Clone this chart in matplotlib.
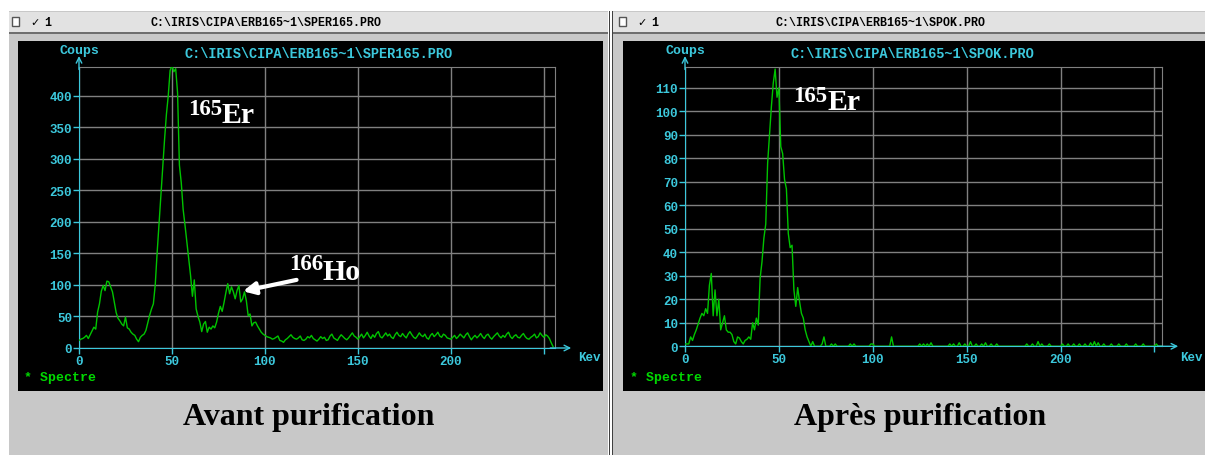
import numpy as np
import matplotlib
matplotlib.use("Agg")
import matplotlib.pyplot as plt
from matplotlib.patches import Rectangle

counts_avant = [
    12, 14, 15, 17, 20, 15, 21, 27, 33, 30, 57, 70, 90, 99, 91, 106, 105, 97, 89, 72,
    56, 47, 43, 38, 35, 49, 32, 30, 25, 22, 20, 14, 10, 17, 20, 22, 28, 40, 52, 62,
    70, 100, 150, 195, 240, 285, 330, 370, 400, 440, 448, 438, 443, 405, 290, 262, 220, 195, 168, 140,
    115, 82, 108, 62, 50, 41, 26, 38, 42, 25, 33, 30, 35, 32, 41, 55, 66, 58, 72, 88,
    102, 86, 97, 89, 78, 91, 99, 73, 78, 89, 75, 51, 54, 35, 40, 41, 35, 30, 25, 22,
    20, 18, 17, 16, 14, 15, 17, 19, 12, 11, 9, 13, 15, 18, 21, 17, 15, 14,
    16, 19, 13, 12, 14, 18, 16, 20, 15, 13, 11, 14, 18, 15, 17, 12, 13, 19, 22, 16,
    14, 12, 17, 21, 18, 15, 13, 16, 20, 24, 19, 17, 14,
    18, 22, 16, 20, 25, 19, 15, 21, 17, 23, 26, 18, 16, 20, 24, 19, 22, 17, 15, 21,
    25, 20, 18, 23, 19, 16, 22, 26, 21, 17, 15, 19, 24, 20, 18, 22, 16, 14, 20, 23,
    18, 21, 25, 19, 17, 22, 20, 16, 15, 14,
    17, 20, 15, 18, 22, 19, 16, 21, 24, 18, 13, 17, 20, 16, 19, 23, 18, 15, 20, 22,
    17, 14, 18, 21, 24, 19, 16, 20, 17, 22, 25, 18, 15, 19, 21, 17, 16, 20, 23, 18,
    15, 14, 17, 19, 22, 16, 18, 24, 20, 17, 21, 19, 15, 8, 2,
]

# spectre apres purification
counts_apres = [
    1, 1, 1, 4, 2.5, 5, 7, 9.5, 12, 14, 13, 16, 14, 26, 31, 13, 24, 13, 20, 7,
    10, 13, 7, 6, 6, 5, 2, 1, 4, 3.5, 2, 1, 2.5, 3, 4, 3, 10, 7, 12, 9,
    29, 36, 46, 52, 78, 90, 102, 112, 118, 106, 110, 85, 82, 71, 67, 48, 42, 43, 24, 17,
    25, 19, 14, 12, 7, 4, 2, 0, 2, 0, 0, 0, 0, 1, 4, 0, 0, 0, 1, 0,
    1, 0, 0, 0, 0, 0, 0, 0, 1, 0, 1, 0, 0, 0, 0, 0, 0, 0, 0, 1,
    1, 0, 0, 0, 0, 0, 0, 0, 0, 0, 4, 0, 0, 0, 0, 0, 0, 0, 0, 0,
    0, 0, 0, 0, 0, 1, 0, 1, 0, 1, 0, 1.5, 0, 0, 0, 0, 0, 0, 0, 0,
    0, 1, 0, 1, 0, 0, 1.5, 0, 0, 1, 0, 0, 2, 0, 0, 1, 0, 0, 1, 0,
    1.5, 0, 0, 1, 0, 0, 1, 0, 0, 0, 0, 0, 0, 0, 0, 0, 0, 0, 0, 0,
    0, 0, 1, 0, 0, 1, 0, 0, 2, 0, 1, 0, 0, 0, 1, 0, 0, 0, 0, 0,
    0, 1, 0, 0, 1, 0, 0, 1, 0, 0, 1, 0, 0, 1, 0, 0, 1.5, 0, 2, 0,
    1.5, 0, 0, 1, 0, 0, 0, 1, 0, 0, 0, 1, 0, 0, 0, 1, 0, 0, 0, 0,
    1, 0, 0, 0, 1, 0, 0, 0, 0, 0, 0, 1, 0, 0, 0,
]

yticks_avant = [0, 50, 100, 150, 200, 250, 300, 350, 400]
yticks_apres = [0, 10, 20, 30, 40, 50, 60, 70, 80, 90, 100, 110]
xticks = [0, 50, 100, 150, 200, 250]
xlabels = ["0", "50", "100", "150", "200", ""]

titre_avant = r"C:\IRIS\CIPA\ERB165~1\SPER165.PRO"
titre_apres = r"C:\IRIS\CIPA\ERB165~1\SPOK.PRO"

CYAN = "#3cc8dc"
GREEN = "#00c400"
GRID = "#808080"
MONO = "Liberation Mono"
SERIF = "Liberation Serif"

W, H = 1205, 456
fig = plt.figure(figsize=(W / 100, H / 100), dpi=100)
fig.patch.set_facecolor("white")


def box(x0, y0, x1, y1, **kw):
    fig.patches.append(Rectangle((x0 / W, 1 - y1 / H), (x1 - x0) / W, (y1 - y0) / H,
                                 transform=fig.transFigure, zorder=-10, **kw))


def ftext(x, y, s, **kw):
    fig.text(x / W, 1 - y / H, s, **kw)


# fenetres
for x0, x1 in [(9, 608), (613, 1205)]:
    box(x0, 12, x1, H, facecolor="#c8c8c8", edgecolor="none")
    box(x0, 13, x1, 33, facecolor="#e2e2e2", edgecolor="none")
    box(x0, 33, x1, 35, facecolor="#6e6e6e", edgecolor="none")
box(608, 12, 613, H, facecolor="white", edgecolor="none")
box(609, 12, 610, H, facecolor="#404040", edgecolor="none")
box(612, 12, 613, H, facecolor="#404040", edgecolor="none")
box(18, 42, 603, 392, facecolor="black", edgecolor="none")
box(623, 42, 1205, 392, facecolor="black", edgecolor="none")

# barres de titre
for xc, xcb, t in [(266, 12, titre_avant), (880, 619, titre_apres)]:
    box(xcb, 18, xcb + 7, 27, facecolor="white", edgecolor="#555555", lw=1)
    ftext(xcb + 18, 23, "\u2713", fontsize=8, family="DejaVu Sans", va="center")
    ftext(xcb + 32, 23, "1", fontsize=8.4, family=MONO, weight="bold", va="center")
    ftext(xc, 23, t, fontsize=8.4, family=MONO, weight="bold", ha="center", va="center")


def panel(rect, counts, ymax, xmax, yticks, titre, x0px, title_x, legend_x, kev_x):
    ax = fig.add_axes(rect)
    ax.set_facecolor("none")
    chan = np.arange(len(counts))
    ax.plot(chan, counts, color=GREEN, lw=1, zorder=3)
    ax.set_xlim(0, xmax)
    ax.set_ylim(0, ymax)
    ax.set_xticks(xticks)
    ax.set_xticklabels(xlabels)
    ax.set_yticks(yticks)
    ax.set_axisbelow(True)
    ax.grid(color=GRID, lw=1)
    for s in ["left", "bottom"]:
        ax.spines[s].set_color(CYAN)
    for s in ["top", "right"]:
        ax.spines[s].set_color(GRID)
    ax.tick_params(colors=CYAN, length=4, width=1, pad=1, labelsize=9)
    for lab in ax.get_xticklabels() + ax.get_yticklabels():
        lab.set_family(MONO)
        lab.set_weight("bold")
    # fleches des axes
    ax.annotate("", xy=(1.034, 0), xytext=(0.99, 0), xycoords="axes fraction",
                arrowprops=dict(arrowstyle="->", color=CYAN, lw=1, shrinkA=0, shrinkB=0),
                annotation_clip=False)
    ax.annotate("", xy=(0, 1.038), xytext=(0, 0.99), xycoords="axes fraction",
                arrowprops=dict(arrowstyle="->", color=CYAN, lw=1, shrinkA=0, shrinkB=0),
                annotation_clip=False)
    ftext(x0px, 51, "Coups", color=CYAN, fontsize=9.5, family=MONO, weight="bold",
          ha="center", va="center")
    ftext(title_x, 54, titre, color=CYAN, fontsize=9.8, family=MONO, weight="bold",
          ha="center", va="center")
    ftext(kev_x, 358, "Kev", color=CYAN, fontsize=9, family=MONO, weight="bold",
          ha="right", va="center")
    ftext(legend_x, 378, "* Spectre", color="#00d800", fontsize=9.5, family=MONO,
          weight="bold", va="center")
    return ax


ax1 = panel([79 / W, (H - 349) / H, 476 / W, 281.3 / H], counts_avant, 446, 256,
            yticks_avant, titre_avant, 79, 319, 24, 601)
ax2 = panel([685 / W, (H - 347.3) / H, 477 / W, 279.6 / H], counts_apres, 119, 254,
            yticks_apres, titre_apres, 685, 912, 630, 1203)

# annotations isotopes
iso = dict(color="white", family=SERIF, weight="bold")
ax1.text(76.9, 371, "165", fontsize=16.5, ha="right", va="baseline", **iso)
ax1.text(76.9, 358, "Er", fontsize=21.5, ha="left", va="baseline", **iso)
ax1.text(131.2, 125, "166", fontsize=16.5, ha="right", va="baseline", **iso)
ax1.text(131.2, 109, "Ho", fontsize=21.5, ha="left", va="baseline", **iso)
ax1.annotate("", xy=(88.2, 90), xytext=(117, 108),
             arrowprops=dict(arrowstyle="-|>", color="white", lw=3, mutation_scale=18,
                             shrinkA=0, shrinkB=0))
ax2.text(76, 104.5, "165", fontsize=16.5, ha="right", va="baseline", **iso)
ax2.text(76, 101, "Er", fontsize=21.5, ha="left", va="baseline", **iso)

# legendes sous les graphes
ftext(309, 418, "Avant purification", fontsize=23, family=SERIF, weight="bold",
      ha="center", va="center")
ftext(920, 418, "Après purification", fontsize=23, family=SERIF, weight="bold",
      ha="center", va="center")

fig.savefig("out.png", dpi=100, facecolor=fig.get_facecolor())
